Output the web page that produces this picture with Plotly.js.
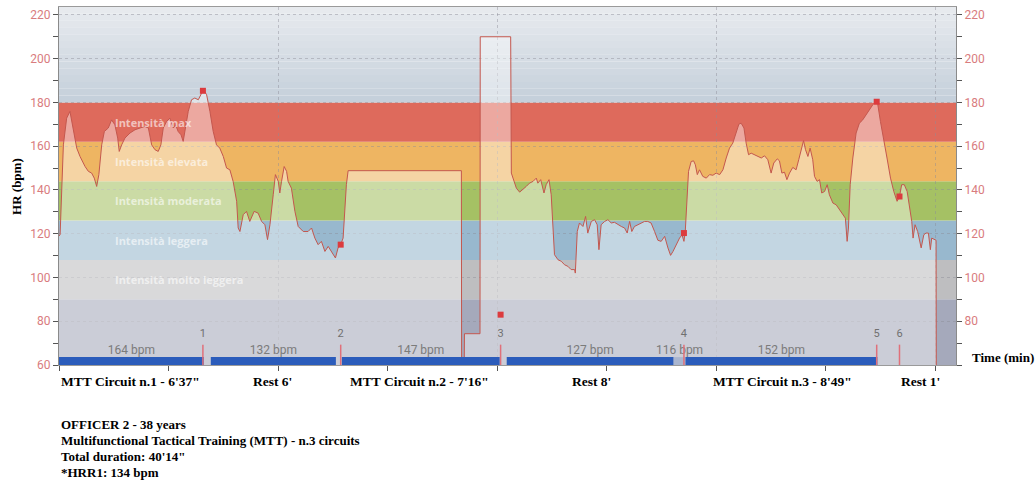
<!DOCTYPE html>
<html>
<head>
<meta charset="utf-8">
<script src="https://cdn.plot.ly/plotly-3.0.1.min.js"></script>
<style>
html,body{margin:0;padding:0;background:#fff;}
#chart{width:1036px;height:483px;}
</style>
</head>
<body>
<div id="chart"></div>
<script>
// ---------------- DATA ----------------
// heart-rate trace: time (minutes) and HR (bpm)
const hrTime = [
  0, 0.05, 0.20, 0.35, 0.50, 0.65, 0.81, 0.96, 1.19, 1.34,
  1.49, 1.61, 1.72, 1.82, 1.95, 2.07, 2.25, 2.40, 2.55, 2.68,
  2.75, 2.86, 3.01, 3.24, 3.47, 3.70, 3.92, 4.08, 4.23, 4.38,
  4.53, 4.65, 4.76, 4.91, 5.06, 5.22, 5.32, 5.44, 5.57, 5.67,
  5.78, 5.90, 6.05, 6.20, 6.36, 6.51, 6.63, 6.74, 6.89, 7.04,
  7.19, 7.34, 7.50, 7.65, 7.80, 7.95, 8.11, 8.18, 8.26, 8.41,
  8.56, 8.71, 8.91, 9.09, 9.25, 9.40, 9.52, 9.63, 9.78, 9.88,
  10.01, 10.08, 10.16, 10.28, 10.39, 10.46, 10.61, 10.77, 10.92, 11.15,
  11.37, 11.53, 11.68, 11.83, 11.98, 12.14, 12.29, 12.44, 12.62, 12.74,
  12.86, 12.97, 13.05, 13.12, 13.20,
  18.37, 18.38, 18.50, 18.51, 19.22, 19.23, 20.62, 20.65, 20.72, 20.88,
  21.03, 21.18, 21.33, 21.48, 21.64, 21.79, 21.86, 21.99, 22.14, 22.24,
  22.37, 22.47, 22.55, 22.62, 22.78, 22.93, 23.08, 23.23, 23.38, 23.54,
  23.57, 23.66, 23.76, 23.92, 24.04, 24.14, 24.30, 24.45, 24.57, 24.65,
  24.75, 24.91, 25.06, 25.21, 25.36, 25.51, 25.67, 25.82, 25.94, 26.05,
  26.15, 26.27, 26.43, 26.58, 26.73, 26.88, 27.03, 27.19, 27.34,
  27.49, 27.65, 27.80, 27.92, 28.03, 28.18, 28.33, 28.44, 28.53, 28.59,
  28.67, 28.74, 28.86, 28.97, 29.05, 29.14, 29.24, 29.39, 29.55, 29.70,
  29.85, 30.00, 30.16, 30.31, 30.46, 30.61, 30.76, 30.92, 31.04, 31.14,
  31.27, 31.37, 31.48, 31.60, 31.75, 31.90, 32.06, 32.21, 32.36, 32.51,
  32.63, 32.79, 32.89, 33.00, 33.12, 33.23, 33.35, 33.50, 33.65, 33.77,
  33.88, 33.99, 34.08, 34.19, 34.29, 34.41, 34.49, 34.61, 34.72, 34.82,
  34.95, 35.07, 35.17, 35.33, 35.48, 35.63, 35.78, 35.90, 35.98, 36.04,
  36.12, 36.24, 36.39, 36.54, 36.69, 36.85, 37.00, 37.15, 37.30, 37.38,
  37.50, 37.65, 37.80, 37.96, 38.11, 38.26, 38.37, 38.47, 38.59, 38.72,
  38.82, 38.93, 38.99, 39.08, 39.20, 39.36, 39.48, 39.58, 39.69, 39.78,
  39.84, 39.96, 40.04, 40.05
];
const hrBpm = [
  119, 119.5, 160.6, 172.8, 175.9, 168.3, 159.1, 155.3, 150.7, 148.5,
  147.7, 145.4, 141.6, 147, 160.6, 166.7, 168.3, 172, 169.8, 163.7,
  157.6, 160.6, 163.7, 166, 167.5, 168.3, 169, 168.3, 160.6, 158.4,
  157.6, 160.6, 168.3, 171.3, 172.8, 168.3, 169.8, 166.7, 165.2, 162.2,
  168.3, 175.9, 181.2, 182, 181.2, 184.2, 185.3, 183.5, 175.9, 166.7,
  160.6, 159.1, 155.3, 150, 149.2, 143.9, 134.8, 122.6, 121, 128.7,
  130.2, 125.6, 130.2, 129.4, 125.6, 124.1, 117.3, 124.1, 137.8, 147,
  143.9, 138.6, 143.9, 150.7, 148.5, 143.9, 140.8, 130.2, 123.3, 121,
  121, 122.6, 118, 115, 116.5, 111.9, 114.2, 111.9, 108.9, 113.5,
  115, 118, 130.2, 142.4, 148.8,
  148.8, 60, 60, 74.3, 74.3, 210, 210, 147.7, 145.4, 140.8,
  139, 140.1, 141.6, 143.1, 143.9, 145.4, 143.1, 144.7, 138.6, 142.4,
  144.7, 137.8, 124.1, 110.4, 108.1, 107.4, 105.8, 105.1, 103.6, 103.6,
  102, 121, 124.9, 123.3, 127.9, 120.3, 125.6, 126.4, 124.1, 112.7,
  124.1, 125.6, 126.4, 124.9, 125.2, 124.1, 123.3, 122.6, 120.3, 125.6,
  121, 123.3, 124.1, 124.9, 125.6, 125.6, 124.9, 121, 117,
  116.5, 118.8, 113.5, 110.1, 111.9, 115, 118, 119.5, 116.5, 121,
  137.8, 148.5, 153, 153.3, 151.5, 147, 149.2, 146.2, 145.4, 147,
  146.7, 147.7, 147, 149.2, 154.6, 159.1, 161.4, 166.7, 170.1, 170.5,
  168.3, 161.4, 156.1, 156.8, 156.1, 155.3, 154.6, 155.6, 153.8, 147.7,
  152.3, 154.2, 153.3, 147.7, 148.1, 144.7, 147.7, 150.3, 149.2, 153.8,
  157.6, 162.5, 158.4, 155.3, 159.1, 153.8, 146.2, 143.9, 144.7, 138.6,
  139.3, 142.4, 137.8, 134, 133.2, 131, 129.4, 127.1, 116.5, 122.6,
  142.4, 154.6, 166, 170.5, 172, 174.3, 176.6, 178.9, 180.4, 179,
  171.3, 163.7, 154.6, 145.4, 139.3, 134.8, 137, 142.4, 142.4, 139.3,
  133.2, 125.6, 118, 124.1, 121, 113.5, 119.5, 120.3, 120.3, 112.7,
  118, 117.3, 117, 60
];

// laps
const lapNames = ["1", "2", "3", "4", "5", "6"];
const lapTime  = [6.57, 12.86, 20.16, 28.53, 37.33, 38.37];
const lapBpm   = [185.3, 115, 83, 120.3, 180.3, 137];

// segment bars with mean HR
const segStart = [0, 6.93, 12.91, 20.44, 28.06, 28.60];
const segEnd   = [6.61, 12.64, 20.12, 28.06, 28.60, 37.36];
const segMean  = [164, 132, 147, 127, 116, 152];

// intensity zones (bpm)
const zoneEdges = [90, 108, 126, 144, 162, 180];
const zoneNames = ["Intensità molto leggera", "Intensità leggera", "Intensità moderata", "Intensità elevata", "Intensità max"];

// phase labels
const phaseNames = ["MTT Circuit n.1 - 6'37\"", "Rest 6'", "MTT Circuit n.2 - 7'16\"", "Rest 8'", "MTT Circuit n.3 - 8'49\"", "Rest 1'"];
const phaseCenter = [3.28, 9.76, 16.47, 24.32, 33.03, 39.32];

const infoLines = ["OFFICER 2 - 38 years", "Multifunctional Tactical Training (MTT) - n.3 circuits", "Total duration: 40'14\"", "*HRR1: 134 bpm"];

// ---------------- STYLE ----------------
const Y0 = 60, YTOP = 223.6, XMAX = 40.95, BAR_H = 3.6;
const bandColors = ["rgb(165,169,187)", "rgb(190,190,192)", "rgb(152,184,206)", "rgb(165,193,100)", "rgb(238,181,98)", "rgb(222,106,92)"];
const shapes = [];
const lows = [Y0].concat(zoneEdges.slice(0, -1));
for (let i = 0; i < zoneEdges.length; i++) {
  shapes.push({type:'rect', xref:'paper', yref:'y', x0:0, x1:1, y0:lows[i], y1:zoneEdges[i],
    fillcolor:bandColors[i], line:{width:0}, layer:'below'});
}
// gradient above top zone
const gSteps = 14, top0 = zoneEdges[zoneEdges.length-1];
const cA = [196,207,218], cB = [232,235,239];
for (let k = 0; k < gSteps; k++) {
  const f = (k + 0.5) / gSteps;
  const c = cA.map((v, j) => Math.round(v + (cB[j] - v) * f));
  shapes.push({type:'rect', xref:'paper', yref:'y', x0:0, x1:1,
    y0: top0 + (YTOP - top0) * k / gSteps, y1: top0 + (YTOP - top0) * (k + 1) / gSteps + 0.05,
    fillcolor:`rgb(${c[0]},${c[1]},${c[2]})`, line:{width:0}, layer:'below'});
}

// lap line segments
const lapLX = [], lapLY = [];
lapTime.forEach(t => { lapLX.push(t, t, null); lapLY.push(Y0, 69.3, null); });

const segMid = segStart.map((s, i) => (s + segEnd[i]) / 2);

const traces = [
  { // HR area + line
    x: hrTime, y: hrBpm, type:'scatter', mode:'lines',
    line:{color:'#c4574e', width:1}, fill:'tozeroy', fillcolor:'rgba(255,255,255,0.42)',
    hoverinfo:'skip', showlegend:false
  }
];
// segment bars (filled polygons so they sit above the HR fill)
segStart.forEach((s, i) => {
  const e = segEnd[i];
  traces.push({
    x:[s, e, e, s, s], y:[Y0, Y0, Y0 + BAR_H, Y0 + BAR_H, Y0], type:'scatter', mode:'lines',
    fill:'toself', fillcolor: i === 4 ? '#a9b5cf' : '#2b5cbb', line:{width:0},
    hoverinfo:'skip', showlegend:false
  });
});
traces.push(
  { // segment mean labels
    x: segMid, y: segMean.map(() => 66.3), text: segMean.map(m => m + ' bpm'),
    type:'scatter', mode:'text', textposition:'middle center',
    textfont:{family:'Roboto, Arial, sans-serif', size:12, color:'#7b7b7b'}, hoverinfo:'skip', showlegend:false
  },
  { // lap lines
    x: lapLX, y: lapLY, type:'scatter', mode:'lines', line:{color:'#e0707a', width:1.5},
    hoverinfo:'skip', showlegend:false
  },
  { // lap numbers
    x: lapTime, y: lapTime.map(() => 74), text: lapNames, type:'scatter', mode:'text',
    textfont:{family:'Roboto, Arial, sans-serif', size:11, color:'#707070'}, hoverinfo:'skip', showlegend:false
  },
  { // lap markers
    x: lapTime, y: lapBpm, type:'scatter', mode:'markers',
    marker:{symbol:'square', size:6, color:'#dc3b3e'}, hoverinfo:'skip', showlegend:false
  },
  { x:[null], y:[null], yaxis:'y2', type:'scatter', mode:'markers', showlegend:false, hoverinfo:'skip' }
);

const serif = 'Liberation Serif, Times New Roman, serif';
const annotations = [];
zoneNames.forEach((n, i) => {
  annotations.push({xref:'x', yref:'y', x:2.46, y:(zoneEdges[i] + zoneEdges[i+1]) / 2, text:n,
    showarrow:false, xanchor:'left', yanchor:'middle',
    font:{family:'Open Sans, sans-serif', size:11, color:'rgba(255,255,255,0.6)', weight:700}});
});
phaseNames.forEach((n, i) => {
  annotations.push({xref:'x', yref:'paper', x:phaseCenter[i], y:-0.045, text:'<b>' + n + '</b>',
    showarrow:false, xanchor:'center', yanchor:'middle', font:{family:serif, size:13.5, color:'#000'}});
});
infoLines.forEach((n, i) => {
  annotations.push({xref:'paper', yref:'paper', x:0, y:-0.165 - i * 0.0447, text:'<b>' + n + '</b>',
    showarrow:false, xanchor:'left', yanchor:'middle', font:{family:serif, size:13, color:'#000'}});
});
annotations.push({xref:'paper', yref:'paper', x:-0.048, y:0.5, text:'<b>HR (bpm)</b>', textangle:-90,
  showarrow:false, xanchor:'center', yanchor:'middle', font:{family:serif, size:13, color:'#000'}});
annotations.push({xref:'paper', yref:'paper', x:1.052, y:0.022, text:'<b>Time (min)</b>',
  showarrow:false, xanchor:'center', yanchor:'middle', font:{family:serif, size:13, color:'#000'}});

const gridCol = 'rgba(140,140,150,0.45)';
const tickFont = {family:'Roboto, Arial, sans-serif', size:12, color:'#d97c7e'};
const layout = {
  width:1036, height:483,
  margin:{l:59, r:80, t:7, b:118},
  paper_bgcolor:'#ffffff', plot_bgcolor:'#ffffff',
  showlegend:false,
  xaxis:{range:[0, XMAX], tickmode:'linear', tick0:0, dtick:10, showticklabels:false,
    ticks:'outside', ticklen:5, tickcolor:'#555',
    showgrid:true, gridcolor:gridCol, griddash:'3px,3px', gridwidth:1,
    minor:{tickmode:'linear', tick0:0, dtick:5, ticks:'outside', ticklen:5, tickcolor:'#555', showgrid:false},
    showline:true, linecolor:'#9a9a9a', linewidth:1, mirror:true, zeroline:false, fixedrange:true},
  yaxis:{range:[Y0, YTOP], tickmode:'linear', tick0:60, dtick:20, ticks:'outside', ticklen:5, tickcolor:'#555',
    tickfont:tickFont, showgrid:true, gridcolor:gridCol, griddash:'3px,3px', gridwidth:1,
    minor:{tickmode:'linear', tick0:60, dtick:10, ticks:'outside', ticklen:5, tickcolor:'#555', showgrid:false},
    showline:true, linecolor:'#8a8a8a', zeroline:false, fixedrange:true},
  yaxis2:{range:[Y0, YTOP], overlaying:'y', side:'right', tickmode:'linear', tick0:60, dtick:20,
    labelalias:{'60':' '}, ticks:'outside', ticklen:5, tickcolor:'#555', tickfont:tickFont, showgrid:false,
    minor:{tickmode:'linear', tick0:60, dtick:10, ticks:'outside', ticklen:5, tickcolor:'#555', showgrid:false},
    showline:true, linecolor:'#8a8a8a', zeroline:false, fixedrange:true},
  shapes:shapes,
  annotations:annotations
};

Plotly.newPlot('chart', traces, layout, {staticPlot:true, displayModeBar:false});
</script>
</body>
</html>
